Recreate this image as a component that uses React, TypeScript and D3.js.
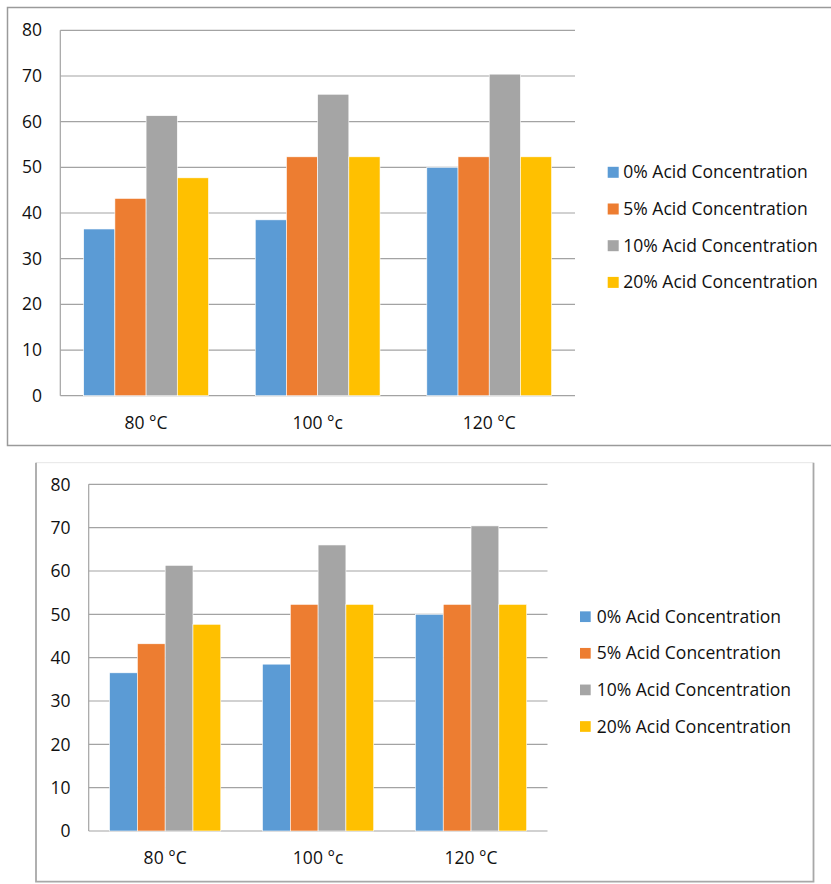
import React from "react";
import * as d3 from "d3";

const categories = ["80 °C", "100 °c", "120 °C"];
const seriesNames = [
  "0% Acid Concentration",
  "5% Acid Concentration",
  "10% Acid Concentration",
  "20% Acid Concentration",
];
const acid0 = [36.5, 38.5, 50.0];
const acid5 = [43.2, 52.3, 52.3];
const acid10 = [61.3, 66.0, 70.4];
const acid20 = [47.7, 52.3, 52.3];
const seriesValues = [acid0, acid5, acid10, acid20];
const colors = ["#5B9BD5", "#ED7D31", "#A5A5A5", "#FFC000"];
const yTicks = [0, 10, 20, 30, 40, 50, 60, 70, 80];

const FONT = "'Open Sans', 'Noto Sans', sans-serif";
const FS = 17.5;

type Layout = {
  frame: { x: number; y: number; w: number; h: number; kind: "top" | "bottom" };
  plot: { left: number; right: number; top: number; bottom: number };
  tickRight: number;
  catBaseline: number;
  legend: { sqX: number; sq: number; textX: number; y0: number; step: number };
  tickDy: number;
};

function Chart({ L }: { L: Layout }) {
  const { plot } = L;
  const y = d3.scaleLinear().domain([0, 80]).range([plot.bottom, plot.top]);
  const x0 = d3.scaleBand<string>().domain(categories).range([plot.left, plot.right]).padding(0);
  const bw = x0.bandwidth();
  const barW = bw / 5.5;
  const gap = barW * 1.5;
  const x1 = d3
    .scaleBand<number>()
    .domain(d3.range(seriesNames.length))
    .range([gap / 2, bw - gap / 2])
    .padding(0);
  const f = L.frame;
  return (
    <g>
      {f.kind === "top" ? (
        <path
          d={`M${f.x + f.w},${f.y} H${f.x} V${f.y + f.h} H${f.x + f.w}`}
          fill="none"
          stroke="#9a9a9a"
          strokeWidth={1.5}
        />
      ) : (
        <g>
          <line x1={f.x} x2={f.x + f.w} y1={f.y} y2={f.y} stroke="#e6e6e6" strokeWidth={1} />
          <path
            d={`M${f.x},${f.y} V${f.y + f.h} H${f.x + f.w} V${f.y}`}
            fill="none"
            stroke="#a8a8a8"
            strokeWidth={1.8}
          />
        </g>
      )}
      {yTicks.map((t) => (
        <g key={t}>
          <line x1={plot.left} x2={plot.right} y1={y(t)} y2={y(t)} stroke="#a3a3a3" strokeWidth={1.2} />
          <text
            x={L.tickRight}
            y={y(t) + L.tickDy}
            textAnchor="end"
            fontFamily={FONT}
            fontSize={FS}
            fill="#111"
          >
            {t}
          </text>
        </g>
      ))}
      <line x1={plot.left} x2={plot.left} y1={plot.top} y2={plot.bottom} stroke="#a3a3a3" strokeWidth={1.2} />
      {categories.map((c, ci) => (
        <g key={c} transform={`translate(${x0(c)},0)`}>
          {seriesValues.map((vals, si) => (
            <rect
              key={si}
              x={x1(si)}
              width={x1.bandwidth()}
              y={y(vals[ci])}
              height={y(0) - y(vals[ci])}
              fill={colors[si]}
              stroke="#ffffff"
              strokeWidth={0.6}
            />
          ))}
          <text
            x={bw / 2}
            y={L.catBaseline}
            textAnchor="middle"
            fontFamily={FONT}
            fontSize={FS}
            fill="#111"
          >
            {c}
          </text>
        </g>
      ))}
      {seriesNames.map((s, i) => {
        const cy = L.legend.y0 + i * L.legend.step;
        return (
          <g key={s}>
            <rect
              x={L.legend.sqX}
              y={cy - L.legend.sq / 2}
              width={L.legend.sq}
              height={L.legend.sq}
              fill={colors[i]}
            />
            <text x={L.legend.textX} y={cy + 6} fontFamily={FONT} fontSize={FS} fill="#111">
              {s}
            </text>
          </g>
        );
      })}
    </g>
  );
}

const topLayout: Layout = {
  frame: { x: 7.5, y: 7.5, w: 840, h: 438, kind: "top" },
  plot: { left: 60.3, right: 575, top: 30.3, bottom: 395.7 },
  tickRight: 42,
  catBaseline: 429,
  legend: { sqX: 607.7, sq: 11, textX: 623.3, y0: 172.3, step: 36.7 },
  tickDy: 6,
};

const bottomLayout: Layout = {
  frame: { x: 36, y: 462.7, w: 777.5, h: 419, kind: "bottom" },
  plot: { left: 88.7, right: 547.5, top: 484.3, bottom: 831 },
  tickRight: 70.5,
  catBaseline: 864,
  legend: { sqX: 580, sq: 10.7, textX: 596.7, y0: 616.7, step: 36.6 },
  tickDy: 6.3,
};

export default function App() {
  return (
    <svg
      width={831}
      height={884}
      style={{ position: "absolute", left: 0, top: 0, background: "#fff" }}
    >
      <rect x={0} y={0} width={831} height={884} fill="#fff" />
      <Chart L={topLayout} />
      <Chart L={bottomLayout} />
    </svg>
  );
}
